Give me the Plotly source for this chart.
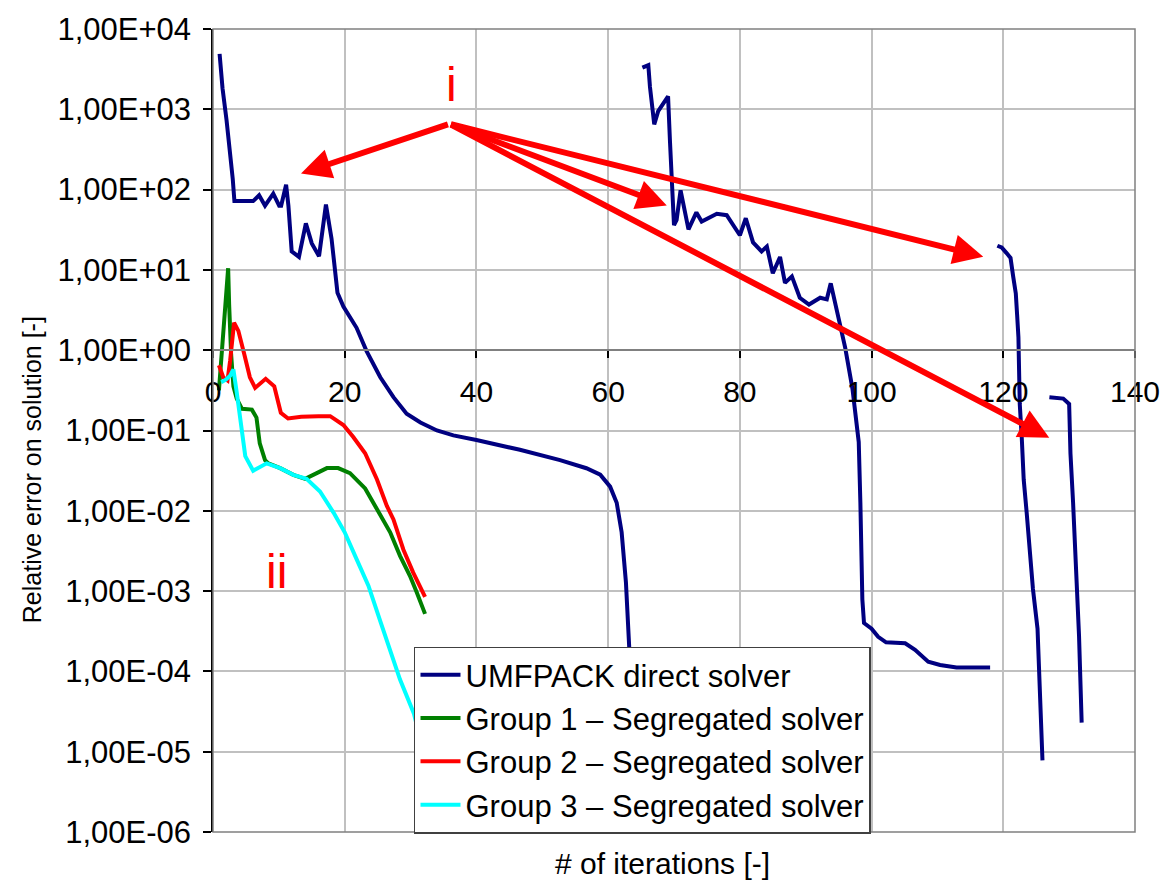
import plotly.graph_objects as go

# ---------------- data ----------------
umf_x = [1.0, 1.45, 2.05, 2.6, 3.0, 3.25, 4.0, 6.1, 7.0, 7.9, 9.15, 10.05, 10.35, 11.1, 11.45, 11.95, 13.05, 14.1, 15.0, 16.1, 17.15, 18.0, 18.9, 19.8, 21.8, 23.3, 25.4, 27.4, 29.4, 31.5, 34.0, 36.5, 40.0, 46.6, 52.7, 56.7, 58.8, 60.3, 61.3, 62.05, 62.7, 63.05, 63.3, 63.6, 64.0,
         None,
         65.2, 66.1, 66.35, 67.0, 67.6, 69.1, 69.4, 69.8, 70.0, 70.4, 71.0, 72.2, 73.4, 74.2, 76.5, 78.0, 80.0, 80.9, 82.0, 83.3, 84.1, 85.0, 86.1, 86.85, 87.9, 89.1, 90.5, 92.2, 93.2, 93.8, 94.8, 96.0, 97.1, 98.05, 98.3, 98.6, 98.85, 100.0, 101.0, 102.2, 105.1, 106.6, 108.6, 110.4, 112.9, 118.0,
         None,
         119.1, 119.75, 120.5, 121.1, 121.5, 121.9, 122.1, 122.3, 122.4, 122.5, 122.8, 123.1, 123.55, 124.05, 124.5, 125.2, 125.4, 125.7, 125.95,
         None,
         127.0, 129.1, 130.0, 130.2, 130.6, 130.9, 131.1, 131.5, 131.9]
umf_y = [4900, 1820, 740, 290, 135, 72, 72, 72, 85, 63, 89, 63, 63, 115, 63, 17, 14.5, 38, 21.4, 14.8, 65, 24.5, 5.2, 3.5, 1.9, 0.98, 0.46, 0.26, 0.162, 0.126, 0.100, 0.087, 0.076, 0.0575, 0.0427, 0.0339, 0.0282, 0.020, 0.0126, 5.4e-3, 1.29e-3, 3.1e-4, 1.6e-4, 4e-5, 1e-5,
         None,
         3300, 3550, 1900, 650, 950, 1450, 380, 102, 36, 42, 98, 32, 52, 40, 50, 48, 27, 44, 22, 17, 19.5, 9.1, 14.5, 6.9, 8.3, 4.5, 3.7, 4.5, 4.3, 6.8, 3.0, 1.07, 0.33, 0.072, 0.0126, 7.9e-4, 4.0e-4, 3.4e-4, 2.7e-4, 2.3e-4, 2.24e-4, 1.86e-4, 1.32e-4, 1.2e-4, 1.12e-4, 1.12e-4,
         None,
         20, 19, 16.2, 14.1, 8.3, 5.1, 2.75, 1.45, 0.55, 0.214, 0.083, 0.0245, 9.5e-3, 3.3e-3, 1.07e-3, 3.4e-4, 1.1e-4, 4.3e-5, 7.8e-6,
         None,
         0.26, 0.25, 0.214, 0.052, 0.0126, 4.0e-3, 1.17e-3, 2.8e-4, 2.3e-5]

g1_x = [0.9, 1.3, 1.6, 1.95, 2.3, 2.45, 2.6, 2.75, 3.1, 3.6, 4.4, 5.9, 6.6, 7.1, 7.9, 8.4, 10.2, 12.2, 14.0, 15.7, 17.3, 19.0, 20.8, 23.1, 24.9, 26.9, 28.4, 29.9, 30.9, 32.2]
g1_y = [0.316, 0.89, 1.9, 5.9, 10.5, 3.7, 1.58, 0.89, 0.355, 0.25, 0.186, 0.182, 0.145, 0.069, 0.0427, 0.039, 0.034, 0.028, 0.025, 0.0295, 0.034, 0.034, 0.0295, 0.019, 0.0105, 5.4e-3, 2.75e-3, 1.55e-3, 9.8e-4, 5.2e-4]

g2_x = [0.9, 1.55, 2.2, 2.6, 3.2, 3.85, 4.75, 5.6, 6.4, 8.0, 9.3, 10.3, 11.4, 13.4, 16.0, 17.8, 19.8, 21.3, 23.1, 24.9, 26.4, 27.4, 28.9, 30.4, 32.2]
g2_y = [0.65, 0.46, 0.42, 0.74, 2.2, 1.74, 0.89, 0.46, 0.34, 0.44, 0.355, 0.166, 0.141, 0.148, 0.151, 0.151, 0.117, 0.083, 0.052, 0.0245, 0.0115, 7.8e-3, 3.3e-3, 1.7e-3, 8.5e-4]

g3_x = [1.25, 1.95, 2.6, 3.1, 3.6, 4.35, 4.9, 6.1, 8.15, 10.2, 12.2, 14.2, 16.25, 18.3, 20.0, 21.8, 23.6, 25.5, 28.4, 30.5, 31.5]
g3_y = [0.40, 0.43, 0.48, 0.575, 0.30, 0.091, 0.048, 0.0316, 0.039, 0.034, 0.028, 0.025, 0.0174, 9.5e-3, 5.4e-3, 2.5e-3, 1.17e-3, 4.0e-4, 7.9e-5, 3.0e-5, 1.4e-5]

series_names = ["UMFPACK direct solver",
                "Group 1 \u2013 Segregated solver",
                "Group 2 \u2013 Segregated solver",
                "Group 3 \u2013 Segregated solver"]
series_colors = ["#000080", "#008000", "#ff0000", "#00ffff"]

y_tick_vals = [1e4, 1e3, 1e2, 1e1, 1e0, 1e-1, 1e-2, 1e-3, 1e-4, 1e-5, 1e-6]
y_tick_text = ["1,00E+04", "1,00E+03", "1,00E+02", "1,00E+01", "1,00E+00",
               "1,00E-01", "1,00E-02", "1,00E-03", "1,00E-04", "1,00E-05", "1,00E-06"]
x_tick_vals = [0, 20, 40, 60, 80, 100, 120, 140]

# arrows: tail (x, log10 y) -> tips
arrow_tail = (35.9, 2.818)
arrow_tips = [(13.36, 2.201), (68.9, 1.802), (116.96, 1.164), (126.98, -1.09)]

FONT = "Liberation Sans, Arial, sans-serif"

fig = go.Figure()
for xs, ys, nm, col in [(umf_x, umf_y, series_names[0], series_colors[0]),
                        (g1_x, g1_y, series_names[1], series_colors[1]),
                        (g2_x, g2_y, series_names[2], series_colors[2]),
                        (g3_x, g3_y, series_names[3], series_colors[3])]:
    fig.add_trace(go.Scatter(x=xs, y=ys, mode="lines", name=nm,
                             line=dict(color=col, width=4), connectgaps=False))

annotations = []
for tx, ty in arrow_tips:
    annotations.append(dict(x=tx, y=ty, xref="x", yref="y", ax=arrow_tail[0], ay=arrow_tail[1],
                            axref="x", ayref="y", text="", showarrow=True, arrowhead=2,
                            arrowsize=1.0, arrowwidth=6, arrowcolor="#ff0000"))
annotations.append(dict(x=36.2, y=3.31, xref="x", yref="y", text="i", showarrow=False,
                        font=dict(family=FONT, size=48, color="#ff0000"), xanchor="center", yanchor="middle"))
annotations.append(dict(x=9.67, y=-2.75, xref="x", yref="y", text="ii", showarrow=False,
                        font=dict(family=FONT, size=48, color="#ff0000"), xanchor="center", yanchor="middle"))
annotations.append(dict(x=-0.197, y=0.451, xref="paper", yref="paper", text="Relative error on solution [-]",
                        showarrow=False, textangle=-90, font=dict(family=FONT, size=25, color="#000000"),
                        xanchor="center", yanchor="middle"))
annotations.append(dict(x=0.487, y=-0.0395, xref="paper", yref="paper", text="# of iterations [-]",
                        showarrow=False, font=dict(family=FONT, size=30, color="#000000"),
                        xanchor="center", yanchor="middle"))

fig.update_layout(
    width=1173, height=882,
    margin=dict(l=213, r=38, t=22, b=50),
    paper_bgcolor="white", plot_bgcolor="white",
    showlegend=True,
    legend=dict(x=0.218, y=0.2309, xanchor="left", yanchor="top",
                bgcolor="white", bordercolor="#404040", borderwidth=1.5,
                font=dict(family=FONT, size=31, color="#000000"),
                tracegroupgap=0, itemwidth=40),
    annotations=annotations,
    shapes=[dict(type="rect", xref="paper", yref="paper", x0=0, x1=1, y0=0, y1=1,
                 line=dict(color="#808080", width=1.5), layer="above")],
)
fig.update_yaxes(type="log", range=[-6, 4], tickvals=y_tick_vals, ticktext=y_tick_text,
                 showgrid=True, gridcolor="#c0c0c0", gridwidth=1.5,
                 showline=True, linecolor="#000000", linewidth=1.5,
                 ticks="outside", ticklen=8, tickcolor="#000000", tickwidth=1.5,
                 ticklabelstandoff=6,
                 tickfont=dict(family=FONT, size=31, color="#000000"), zeroline=False)
fig.update_xaxes(range=[0, 140], tickvals=x_tick_vals, anchor="free", position=0.6,
                 showgrid=True, gridcolor="#c0c0c0", gridwidth=1.5,
                 showline=True, linecolor="#808080", linewidth=2,
                 ticks="outside", ticklen=7, tickcolor="#000000", tickwidth=1.5,
                 ticklabelstandoff=8,
                 tickfont=dict(family=FONT, size=30, color="#000000"), zeroline=False)

fig.write_html("out.html")
